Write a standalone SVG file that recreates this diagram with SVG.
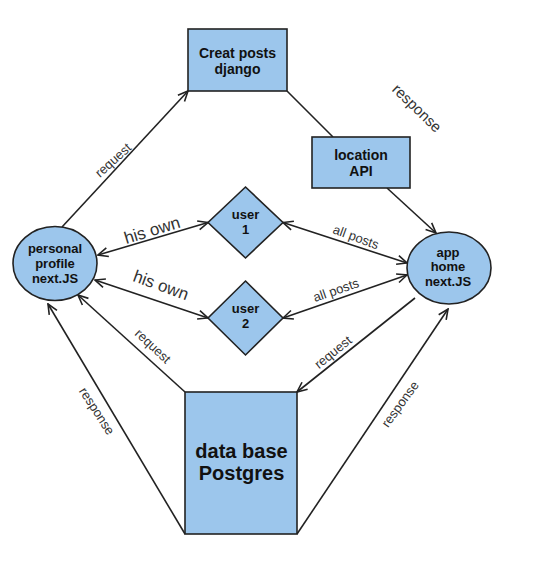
<svg xmlns="http://www.w3.org/2000/svg" width="546" height="565" viewBox="0 0 546 565">
<defs>
<style>
.node{fill:#9cc6ec;stroke:#222;stroke-width:1.6}
.nl{font-family:"Liberation Sans",Arial,sans-serif;font-weight:bold;fill:#111;text-anchor:middle}
.edge{fill:none;stroke:#222;stroke-width:1.6}
.el{font-family:"Liberation Sans",Arial,sans-serif;fill:#333;text-anchor:middle;font-size:13px}
</style>
<marker id="arr" viewBox="0 0 12 12" refX="11" refY="6" markerWidth="12" markerHeight="12" markerUnits="userSpaceOnUse" orient="auto-start-reverse">
<path d="M1,1.5 L11,6 L1,10.5" fill="none" stroke="#222" stroke-width="1.6"/>
</marker>
</defs>
<rect width="546" height="565" fill="#fff"/>
<g id="connectors">
<line class="edge" x1="62" y1="227" x2="188" y2="91" marker-end="url(#arr)"/>
<line class="edge" x1="287" y1="91" x2="333" y2="137"/>
<line class="edge" x1="387" y1="188" x2="436" y2="233" marker-end="url(#arr)"/>
<line class="edge" x1="98" y1="255" x2="208" y2="222.5" marker-start="url(#arr)" marker-end="url(#arr)"/>
<line class="edge" x1="95" y1="280" x2="208" y2="318" marker-start="url(#arr)" marker-end="url(#arr)"/>
<line class="edge" x1="283" y1="222.5" x2="407" y2="263" marker-start="url(#arr)" marker-end="url(#arr)"/>
<line class="edge" x1="283" y1="318" x2="407" y2="275" marker-start="url(#arr)" marker-end="url(#arr)"/>
<line class="edge" x1="185" y1="392" x2="78" y2="295" marker-end="url(#arr)"/>
<line class="edge" x1="185" y1="534" x2="48" y2="304" marker-end="url(#arr)"/>
<line class="edge" x1="415" y1="298" x2="297" y2="392" marker-end="url(#arr)"/>
<line class="edge" x1="297" y1="534" x2="448" y2="309" marker-end="url(#arr)"/>
<text class="el" x="113" y="160" dy="0.35em" transform="rotate(-42 113 160)">request</text>
<text class="el" x="152" y="230" dy="0.35em" font-size="17" style="font-size:17px" transform="rotate(-17 152 230)">his own</text>
<text class="el" x="161" y="285" dy="0.35em" style="font-size:17px" transform="rotate(20 161 285)">his own</text>
<text class="el" x="356" y="237" dy="0.35em" transform="rotate(20 356 237)">all posts</text>
<text class="el" x="336" y="290" dy="0.35em" transform="rotate(-19 336 290)">all posts</text>
<text class="el" x="153" y="346" dy="0.35em" transform="rotate(43 153 346)">request</text>
<text class="el" x="97" y="411" dy="0.35em" transform="rotate(57 97 411)">response</text>
<text class="el" x="333" y="352" dy="0.35em" transform="rotate(-39 333 352)">request</text>
<text class="el" x="400" y="404" dy="0.35em" transform="rotate(-54 400 404)">response</text>
<text class="el" x="417" y="108" dy="0.35em" style="font-size:15px" transform="rotate(44 417 108)">response</text>
</g>
<g id="creat-posts">
<rect class="node" x="188" y="29" width="99" height="62"/>
<text class="nl" font-size="14" x="237.5" y="58">Creat posts</text>
<text class="nl" font-size="14" x="237.5" y="74">django</text>
</g>
<g id="location-api">
<rect class="node" x="312" y="137" width="98" height="51"/>
<text class="nl" font-size="14" x="361" y="160">location</text>
<text class="nl" font-size="14" x="361" y="176">API</text>
</g>
<g id="personal-profile">
<ellipse class="node" cx="55" cy="263.5" rx="42" ry="37"/>
<text class="nl" font-size="13" x="55" y="253">personal</text>
<text class="nl" font-size="13" x="55" y="268">profile</text>
<text class="nl" font-size="13" x="55" y="283">next.JS</text>
</g>
<g id="app-home">
<ellipse class="node" cx="449" cy="268" rx="42" ry="36"/>
<text class="nl" font-size="13" x="448" y="257">app</text>
<text class="nl" font-size="13" x="448" y="271">home</text>
<text class="nl" font-size="13" x="448" y="286">next.JS</text>
</g>
<g id="user-1">
<polygon class="node" points="245.5,187 283,222.5 245.5,258 208,222.5"/>
<text class="nl" font-size="13" x="245.5" y="219">user</text>
<text class="nl" font-size="13" x="245.5" y="234">1</text>
</g>
<g id="user-2">
<polygon class="node" points="245.5,281 283,318 245.5,355 208,318"/>
<text class="nl" font-size="13" x="245.5" y="313">user</text>
<text class="nl" font-size="13" x="245.5" y="328">2</text>
</g>
<g id="database">
<rect class="node" x="185" y="392" width="112" height="142"/>
<text class="nl" font-size="20" x="241.5" y="458">data base</text>
<text class="nl" font-size="20" x="241.5" y="480">Postgres</text>
</g>
</svg>
